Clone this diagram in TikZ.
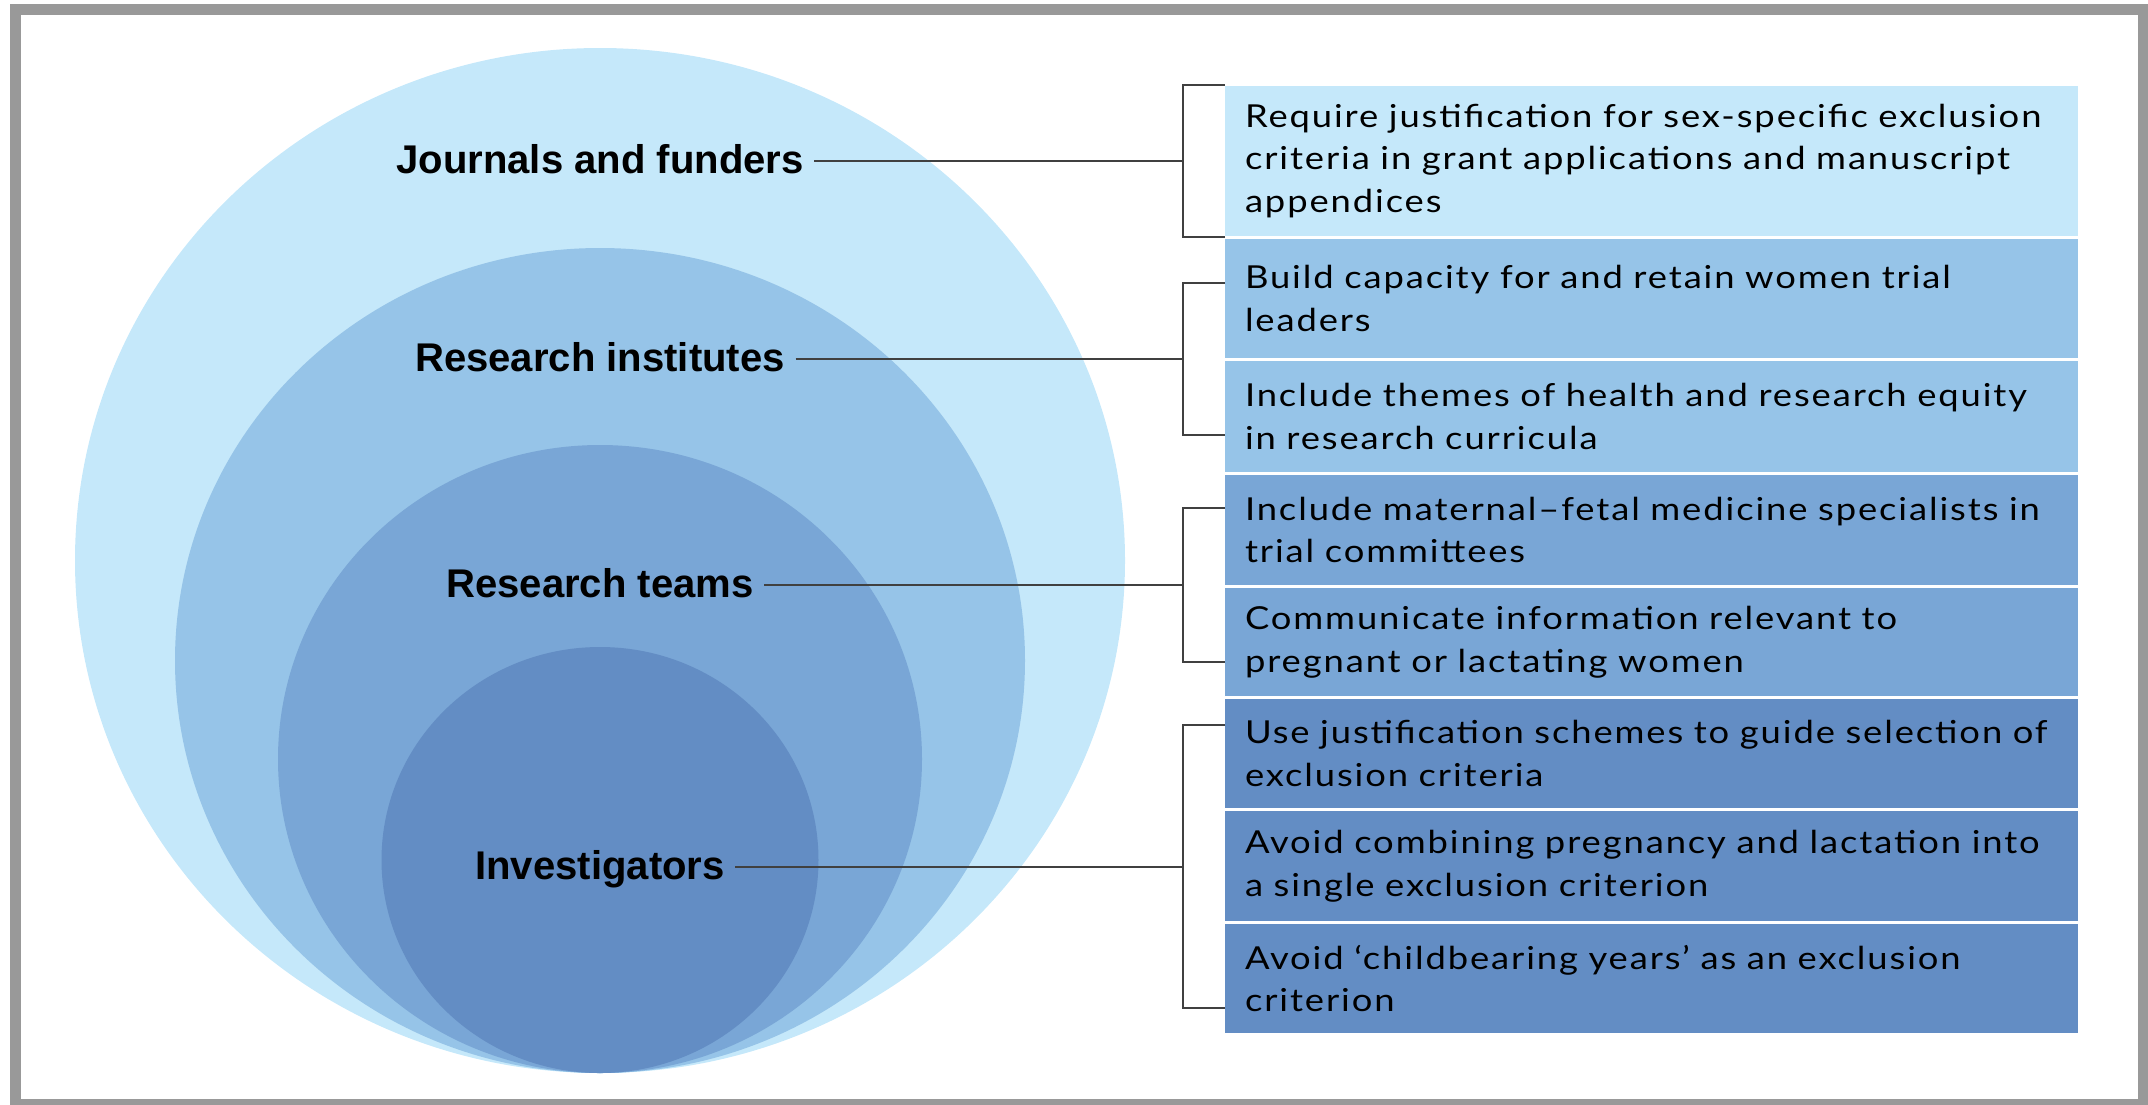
\documentclass[tikz,border=0pt]{standalone}
\usepackage{fontspec}
\usepackage{tikz}
\usetikzlibrary{positioning}

\setmainfont{Lato}
\newfontfamily\levelfont{Liberation Sans}
\newfontfamily\actionfont[FakeStretch=1.15,LetterSpace=6]{Lato}

\definecolor[named]{FigFrame}{HTML}{999999}
\definecolor[named]{FigBlueA}{HTML}{C5E8FA}
\definecolor[named]{FigBlueB}{HTML}{96C4E8}
\definecolor[named]{FigBlueC}{HTML}{79A6D6}
\definecolor[named]{FigBlueD}{HTML}{638DC4}

\newcommand{\levelsize}{\fontsize{11.4pt}{13pt}\selectfont}
\newcommand{\actionsize}{\fontsize{9pt}{12.12pt}\selectfont}

\tikzset{
  level/.style={font=\levelfont\bfseries\levelsize,
    text height=1.4ex,text depth=0pt,inner xsep=1mm,inner ysep=0pt},
  action/.style={fill=#1,text width=81.3mm,inner xsep=2mm,inner ysep=0pt,
    outer sep=0pt,align=left,font=\actionfont\actionsize,node distance=0.3mm},
  link/.style={draw=black!75,line width=0.55pt},
}

\begin{document}
\begin{tikzpicture}[x=0.1mm,y=-0.1mm]
  \path[use as bounding box] (0,0) rectangle (2148,1104);
  \draw[FigFrame,line width=1.1mm] (15.5,9) rectangle (2143,1104.5);

  % Rings {{{
  \fill[FigBlueA] (600,560.5) ellipse [x radius=525,y radius=512.5];
  \fill[FigBlueB] (600,660.5) ellipse [x radius=425,y radius=412.5];
  \fill[FigBlueC] (600,759) ellipse [x radius=322,y radius=314];
  \fill[FigBlueD] (600,860) ellipse [x radius=218.5,y radius=213];

  \node[level] (jf) at (600,161) {Journals and funders};
  \node[level] (ri) at (600,359) {Research institutes};
  \node[level] (rt) at (600,585) {Research teams};
  \node[level] (inv) at (600,867) {Investigators};
  % }}}

  % Actions {{{
  \node[action=FigBlueA,anchor=north west,minimum height=15mm] (b1) at (1225,86)
    {Require justification for sex-specific exclusion\\
     criteria in grant applications and manuscript\\
     appendices};
  \node[action=FigBlueB,minimum height=11.9mm,below=of b1] (b2)
    {Build capacity for and retain women trial\\ leaders};
  \node[action=FigBlueB,minimum height=11.1mm,below=of b2] (b3)
    {Include themes of health and research equity\\ in research curricula};
  \node[action=FigBlueC,minimum height=11mm,below=of b3] (b4)
    {Include maternal–fetal medicine specialists in\\ trial committees};
  \node[action=FigBlueC,minimum height=10.8mm,below=of b4] (b5)
    {Communicate information relevant to\\ pregnant or lactating women};
  \node[action=FigBlueD,minimum height=10.9mm,below=of b5] (b6)
    {Use justification schemes to guide selection of\\ exclusion criteria};
  \node[action=FigBlueD,minimum height=11mm,below=of b6] (b7)
    {Avoid combining pregnancy and lactation into\\ a single exclusion criterion};
  \node[action=FigBlueD,minimum height=10.9mm,below=of b7] (b8)
    {Avoid ‘childbearing years’ as an exclusion\\ criterion};
  % }}}

  % Brackets {{{
  \coordinate (jf-b) at (1183,161);
  \coordinate (ri-b) at (1183,359);
  \coordinate (rt-b) at (1183,585);
  \coordinate (inv-b) at (1183,867);

  \draw[link] (jf.east) -- (jf-b);
  \draw[link] (ri.east) -- (ri-b);
  \draw[link] (rt.east) -- (rt-b);
  \draw[link] (inv.east) -- (inv-b);

  \draw[link] (b1.west |- 0,85) -| (jf-b) |- (b1.west |- 0,237);
  \draw[link] (b2.west |- 0,283) -| (ri-b) |- (b3.west |- 0,435);
  \draw[link] (b4.west |- 0,508) -| (rt-b) |- (b5.west |- 0,662);
  \draw[link] (b6.west |- 0,725) -| (inv-b) |- (b8.west |- 0,1008);
  % }}}
\end{tikzpicture}
\end{document}
